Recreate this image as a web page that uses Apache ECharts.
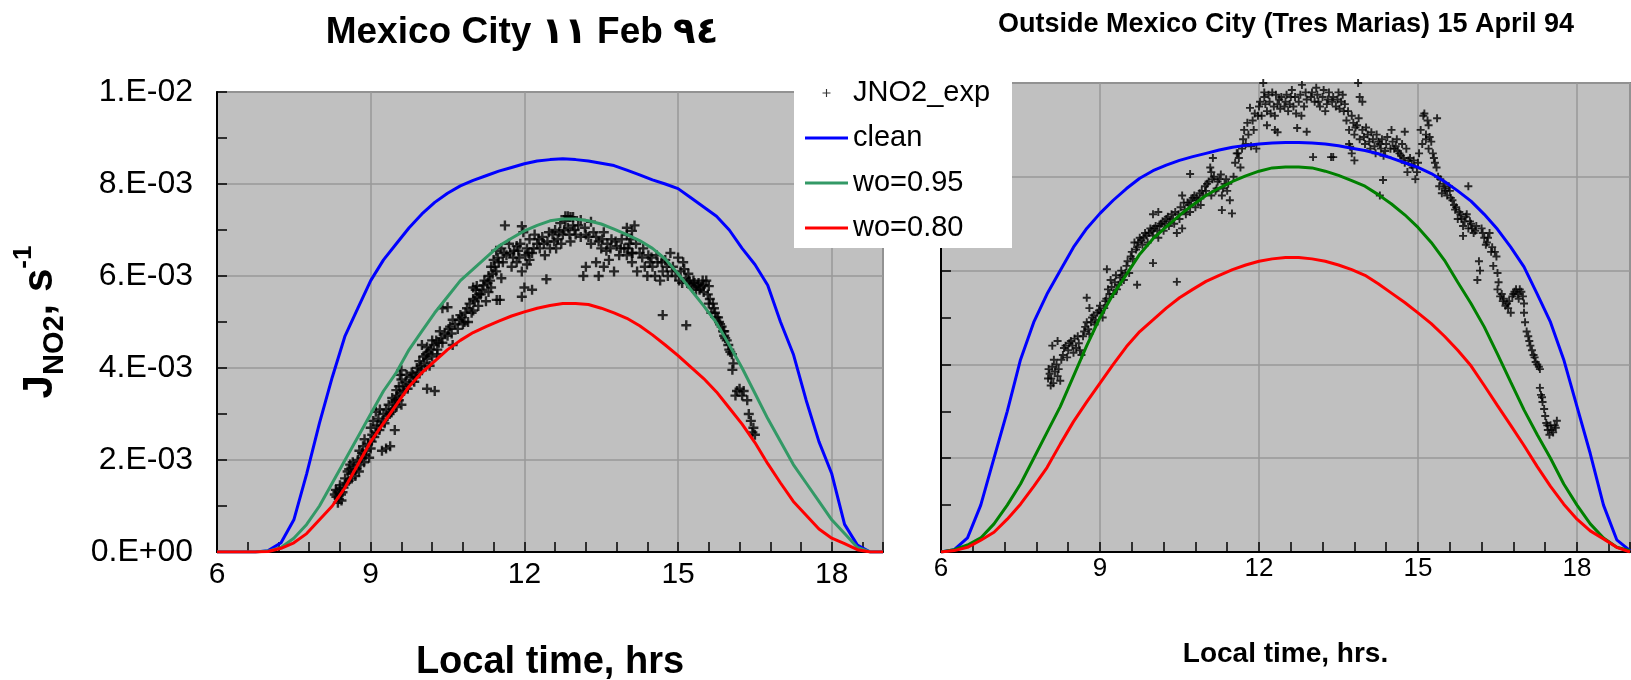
<!DOCTYPE html>
<html><head><meta charset="utf-8">
<script src="https://cdn.jsdelivr.net/npm/echarts@6/dist/echarts.min.js"></script>
<style>html,body{margin:0;padding:0;background:#fff}#c{width:1631px;height:680px}</style>
</head><body><div id="c"></div>
<script>
// ---- DATA (J values in units of 1e-3 s^-1, time in local hours) ----
const modelHours = [6,6.25,6.5,6.75,7,7.25,7.5,7.75,8,8.25,8.5,8.75,9,9.25,9.5,9.75,10,10.25,10.5,10.75,11,11.25,11.5,11.75,12,12.25,12.5,12.75,13,13.25,13.5,13.75,14,14.25,14.5,14.75,15,15.25,15.5,15.75,16,16.25,16.5,16.75,17,17.25,17.5,17.75,18,18.25,18.5,18.75,19];

const cleanFeb = [0,0,0,0,0.03,0.2,0.7,1.7,2.8,3.8,4.7,5.3,5.9,6.35,6.7,7.05,7.35,7.6,7.8,7.96,8.08,8.18,8.28,8.36,8.44,8.5,8.53,8.55,8.53,8.5,8.45,8.4,8.3,8.2,8.09,8.0,7.9,7.7,7.5,7.3,7.0,6.6,6.25,5.8,5.0,4.3,3.3,2.4,1.7,0.6,0.15,0,0];
const wo95Feb = [0,0,0,0,0.02,0.1,0.3,0.6,1.0,1.5,2.0,2.5,3.0,3.5,3.9,4.4,4.8,5.2,5.55,5.9,6.15,6.4,6.65,6.82,6.98,7.1,7.2,7.24,7.24,7.2,7.13,7.02,6.9,6.77,6.6,6.37,6.05,5.7,5.35,4.98,4.5,4.0,3.45,2.9,2.4,1.9,1.5,1.1,0.7,0.4,0.1,0,0];
const wo80Feb = [0,0,0,0,0.01,0.08,0.2,0.4,0.7,1.0,1.4,1.9,2.4,2.8,3.2,3.6,3.9,4.15,4.4,4.6,4.77,4.9,5.02,5.13,5.22,5.3,5.36,5.4,5.4,5.38,5.3,5.2,5.08,4.92,4.72,4.5,4.27,4.02,3.77,3.48,3.13,2.78,2.38,1.92,1.5,1.1,0.8,0.5,0.3,0.18,0.05,0,0];

const cleanApr = [0,0.05,0.3,1.0,2.0,3.0,4.1,4.9,5.5,6.0,6.5,6.9,7.22,7.5,7.75,7.97,8.13,8.25,8.35,8.43,8.5,8.57,8.63,8.67,8.7,8.72,8.73,8.73,8.72,8.7,8.66,8.61,8.56,8.49,8.4,8.3,8.2,8.07,7.9,7.7,7.48,7.2,6.88,6.5,6.08,5.5,4.9,4.1,3.1,2.1,1.0,0.26,0.03];
const wo95Apr = [0,0.05,0.15,0.3,0.6,1.0,1.45,2.0,2.55,3.1,3.75,4.4,5.0,5.5,5.92,6.35,6.68,6.93,7.18,7.4,7.6,7.76,7.9,8.02,8.12,8.19,8.21,8.21,8.19,8.12,8.03,7.92,7.8,7.62,7.42,7.19,6.92,6.6,6.22,5.75,5.3,4.8,4.22,3.62,3.03,2.5,2.0,1.45,1.0,0.6,0.3,0.1,0.03];
const wo80Apr = [0,0.03,0.1,0.25,0.42,0.7,1.02,1.4,1.8,2.3,2.78,3.2,3.6,4.0,4.38,4.7,4.95,5.2,5.42,5.6,5.77,5.9,6.02,6.12,6.2,6.25,6.28,6.28,6.25,6.2,6.12,6.02,5.9,5.72,5.52,5.32,5.1,4.87,4.6,4.3,3.97,3.55,3.12,2.7,2.27,1.82,1.4,1.02,0.7,0.45,0.28,0.1,0];

const expFeb = [[8.33,1.2],[8.35,1.3],[8.38,1.15],[8.4,1.38],[8.42,1.25],[8.36,1.07],[8.45,1.3],[8.4,1.45],[8.3,1.25],[8.43,1.12],
[8.5,1.6],[8.55,1.75],[8.6,1.9],[8.62,1.7],[8.68,1.85],[8.7,1.65],[8.75,2.0],[8.8,1.9],[8.57,1.55],[8.65,1.95],
[8.78,2.2],[8.85,2.3],[8.9,2.1],[8.95,2.35],[9.0,2.25],[8.88,2.45],[8.82,2.05],
[9.0,2.7],[9.05,2.85],[9.1,2.6],[9.15,2.9],[9.2,2.75],[9.25,3.0],[9.1,3.05],[9.03,2.55],[9.18,3.1],
[9.22,2.2],[9.3,2.25],[9.38,2.3],[9.47,2.65],
[9.3,3.1],[9.35,3.2],[9.4,3.05],[9.45,3.25],[9.5,3.15],[9.55,3.3],[9.6,3.2],[9.42,3.35],
[9.55,3.6],[9.6,3.75],[9.65,3.5],[9.7,3.85],[9.75,3.65],[9.8,3.9],[9.85,3.7],[9.6,3.95],[9.57,3.85],[9.5,3.52],
[9.9,4.0],[9.95,4.15],[10.0,3.95],[10.05,4.1],[10.1,4.2],[10.15,4.05],[10.2,4.25],[10.3,4.3],
[10.1,3.55],[10.25,3.5],
[10.0,4.5],[10.1,4.45],[10.2,4.6],[10.3,4.4],[10.4,4.55],[10.5,4.7],[10.6,4.5],[10.35,4.8],
[10.55,4.9],[10.6,5.05],[10.7,4.85],[10.75,5.15],[10.8,4.95],[10.85,5.2],[10.9,5.0],[11.0,5.25],
[10.4,5.3],[10.5,5.32],
[11.0,5.5],[11.05,5.7],[11.1,5.35],[11.15,5.6],[11.2,5.8],[11.25,5.45],[11.3,5.65],[11.35,5.75],[11.0,5.75],[11.07,5.78],
[11.3,6.0],[11.35,6.2],[11.4,6.35],[11.45,6.1],[11.5,6.3],[11.55,5.95],[11.45,6.55],
[11.46,5.48],[11.52,5.48],
[11.62,7.1],[11.95,7.08],[11.98,6.95],
[11.55,6.6],[11.6,6.5],[11.7,6.7],[11.8,6.55],[11.85,6.65],[11.9,6.4],
[11.75,6.2],[11.85,6.3],[11.95,6.1],[12.05,6.25],[12.1,6.35],
[11.95,5.55],[12.0,5.75],[12.15,5.7],[12.43,5.93],
[12.05,6.6],[12.1,6.8],[12.15,6.5],[12.2,6.9],[12.25,6.7],[12.3,6.6],[12.35,6.85],[12.4,6.45],[12.45,6.75],[12.5,6.6],[12.55,6.9],
[12.6,7.0],[12.65,6.8],[12.7,7.15],[12.75,6.9],[12.8,7.2],[12.85,7.05],[12.9,6.75],[12.95,7.1],[13.0,6.9],[12.85,7.3],[12.9,7.28],
[12.8,7.3],[12.95,7.28],[13.1,7.22],[13.3,7.18],
[13.15,6.0],[13.2,6.2],[13.45,6.0],
[13.2,6.9],[13.3,6.7],[13.4,6.85],[13.5,6.6],[13.55,6.95],[13.6,6.55],[13.7,6.8],[13.8,6.65],[13.85,6.45],
[13.4,6.3],[13.55,6.2],[13.65,6.35],[13.75,6.1],
[13.9,6.8],[13.95,6.6],[14.0,6.9],[14.05,6.7],[14.1,6.5],[14.0,6.45],
[14.0,7.05],[14.15,7.1],[14.1,6.98],
[14.1,6.3],[14.2,6.1],[14.3,6.4],[14.4,6.0],[14.45,6.3],[14.35,6.2],
[14.5,6.2],[14.55,6.0],[14.6,6.3],[14.65,5.9],[14.7,6.1],[14.75,6.35],[14.8,6.0],
[14.85,6.5],[14.9,6.2],[15.0,6.4],[15.05,6.1],[15.1,6.3],[15.15,5.95],[15.2,6.05],[15.25,5.8],[15.3,5.9],[15.35,5.7],[15.4,5.85],
[15.45,5.75],[15.5,5.8],[15.5,5.65],[15.55,5.9],[15.6,5.78],[14.11,6.5],
[15.6,5.4],[15.65,5.2],[15.7,5.3],[15.75,5.1],[15.8,5.0],
[15.85,4.9],[15.9,4.7],[15.95,4.6],[16.0,4.4],[16.05,4.3],[15.9,4.8],[16.06,3.96],
[16.12,3.4],[16.2,3.55],[16.28,3.5],[16.35,3.3],
[16.42,2.85],[16.45,2.6],[16.5,2.55],
[14.7,5.15],[15.16,4.93],
[8.32,1.35],[8.47,1.4],[8.52,1.5],[8.58,1.8],[8.63,1.6],[8.72,1.8],[8.77,1.75],[8.83,2.15],[8.87,1.95],[8.92,2.2],[8.97,2.05],[9.02,2.4],[9.07,2.5],[9.12,2.75],[9.17,2.65],[9.23,2.85],[9.27,2.8],[9.33,2.95],[9.37,3.0],[9.43,3.1],[9.48,3.3],[9.52,3.4],[9.58,3.45],[9.63,3.6],[9.68,3.7],[9.72,3.55],[9.78,3.8],[9.83,3.85],[9.88,3.8],[9.93,3.9],[9.98,4.05],[10.03,4.25],[10.08,4.3],[10.13,4.35],[10.18,4.4],[10.23,4.5],[10.28,4.6],[10.33,4.55],[10.38,4.65],[10.45,4.75],[10.52,4.85],[10.58,4.75],[10.65,4.95],[10.72,5.05],[10.78,5.1],[10.83,5.0],[10.88,5.3],[10.93,5.4],[10.97,5.2],[11.03,5.45],[11.08,5.55],[11.12,5.6],[11.18,5.7],[11.22,5.9],[11.28,5.85],[11.33,5.9],[11.38,6.05],[11.42,6.2],[11.48,6.4],[11.58,6.3],[11.65,6.45],[11.72,6.5],[11.78,6.4],[11.88,6.55],[11.92,6.7],[12.02,6.45],[12.08,6.5],[12.18,6.6],[12.28,6.8],[12.38,6.7],[12.48,6.95],[12.58,6.75],[12.62,6.6],[12.68,6.95],[12.72,6.7],[12.78,7.0],[12.88,6.9],[12.98,7.0],[13.05,7.1],[13.1,6.85],[13.18,7.05],[13.25,6.85],[13.35,6.95],[13.45,6.75],[13.52,6.8],[13.62,6.7],[13.68,6.6],[13.78,6.75],[13.88,6.6],[14.02,6.6],[14.08,6.8],[14.18,6.7],[14.25,6.5],[14.32,6.6],[14.42,6.45],[14.48,6.4],[14.58,6.45],[14.68,6.3],[14.78,6.2],[14.88,6.1],[14.95,6.0],[15.02,5.9],[15.08,5.85],[15.12,6.15],[15.18,5.85],[15.22,5.9],[15.28,5.75],[15.32,5.85],[15.38,5.8],[15.42,5.7],[15.48,5.9],[15.58,5.6],[15.62,5.5],[15.68,5.4],[15.72,5.2],[15.78,5.1],[15.82,4.95],[15.88,4.8],[15.92,4.65],[15.98,4.5],[16.02,4.35],[16.08,4.1],[16.15,3.5],[16.25,3.4],[16.38,3.0],[16.47,2.7]];

const expApr = [[8.05,3.8],[8.08,3.7],[8.1,3.95],[8.12,3.6],[8.15,3.85],[8.2,3.75],[8.25,3.65],[8.18,4.0],[8.1,4.4],[8.2,4.5],[8.03,3.9],[8.07,3.55],
[8.3,4.2],[8.35,4.4],[8.4,4.3],[8.45,4.5],[8.5,4.25],[8.55,4.35],[8.6,4.45],[8.65,4.2],
[8.7,4.7],[8.75,4.9],[8.8,4.65],[8.85,5.0],[8.9,4.85],[8.95,5.1],[9.0,5.25],[9.05,5.0],[9.1,5.35],[8.8,5.2],
[9.13,6.03],[8.75,5.42],
[9.15,5.6],[9.2,5.8],[9.25,5.5],[9.3,5.9],[9.35,5.7],[9.4,6.0],[9.45,5.8],[9.5,6.1],[9.55,5.95],
[9.7,5.7],[10.45,5.76],[10.0,6.16],
[9.6,6.4],[9.65,6.6],[9.7,6.5],[9.75,6.7],[9.8,6.55],[9.85,6.8],[9.9,6.6],[9.95,6.9],[10.0,6.75],[10.05,6.95],[10.1,6.7],[10.15,7.0],
[10.2,6.85],[10.25,7.1],[10.3,6.95],[10.35,7.2],[10.4,7.0],[10.45,6.8],[10.5,7.1],[10.55,6.9],
[10.0,7.2],[10.1,7.25],
[10.6,7.3],[10.65,7.45],[10.7,7.25],[10.75,7.55],[10.8,7.35],[10.85,7.5],[10.9,7.4],[10.95,7.6],
[10.55,7.6],[10.7,8.06],
[11.0,7.7],[11.05,7.9],[11.1,7.6],[11.15,8.0],[11.2,7.75],[11.25,7.95],[11.3,7.6],[11.35,7.85],[11.4,7.7],[11.45,7.5],
[11.08,8.2],[11.1,8.1],[11.3,7.29],[11.49,7.22],[11.13,8.4],
[11.55,8.3],[11.6,8.5],[11.65,8.2],[11.62,8.4],
[11.7,8.8],[11.8,8.9],[11.75,8.7],[11.85,8.65],[11.9,9.0],[11.95,8.6],[11.83,9.47],
[12.0,9.5],[12.05,9.3],[12.1,9.7],[12.15,9.4],[12.2,9.6],[12.25,9.8],[12.3,9.3],[12.35,9.55],[12.4,9.45],
[12.08,10.0],[12.1,9.8],
[12.15,9.1],[12.3,9.0],[12.35,8.95],
[12.5,9.6],[12.55,9.4],[12.6,9.7],[12.65,9.5],[12.7,9.35],[12.75,9.6],[12.8,9.3],[12.85,9.5],[12.9,9.65],
[12.72,9.04],[12.9,8.96],[12.81,9.96],
[13.0,9.8],[13.05,9.6],[13.1,9.75],[13.15,9.5],[13.2,9.7],[13.25,9.4],[13.3,9.65],
[13.02,8.42],[13.36,8.42],[13.4,8.42],
[13.4,9.7],[13.45,9.5],[13.5,9.8],[13.55,9.6],[13.6,9.4],
[13.65,9.2],[13.7,9.0],[13.75,9.3],[13.8,8.9],[13.85,9.1],[13.9,8.8],[13.95,9.0],[14.0,8.7],
[13.87,10.0],[13.9,9.7],[13.95,9.6],
[13.7,8.7],[13.75,8.5],[13.8,8.35],[13.72,8.64],
[14.05,8.9],[14.1,8.6],[14.15,8.8],[14.2,8.5],[14.25,8.75],[14.3,8.6],[14.35,8.45],[14.4,8.7],
[14.34,7.93],[14.28,7.6],
[14.5,9.0],[14.55,8.6],[14.6,8.8],[14.65,8.5],[14.7,8.7],
[14.75,8.3],[14.8,8.1],[14.85,8.4],[14.9,8.2],[14.95,7.95],[15.0,8.3],[14.75,8.96],
[15.05,9.0],[15.1,9.3],[15.15,8.8],[15.2,9.1],[15.12,9.35],[15.36,9.25],
[15.15,8.9],[15.2,8.6],[15.25,8.75],[15.3,8.4],[15.35,8.2],
[15.4,7.8],[15.45,7.65],[15.5,7.75],[15.55,7.6],[15.6,7.7],[15.65,7.5],[15.95,7.8],
[15.7,7.3],[15.75,7.1],[15.8,7.2],[15.85,6.95],[15.9,7.15],[15.95,6.9],[16.0,7.0],[16.05,6.8],[16.1,6.95],[15.85,6.74],
[16.2,6.9],[16.25,6.7],[16.3,6.6],[16.35,6.8],[16.4,6.5],[16.45,6.4],
[16.15,6.2],[16.17,6.0],[16.12,5.8],
[16.42,6.1],[16.5,5.95],
[16.5,5.6],[16.55,5.45],[16.6,5.35],[16.65,5.25],[16.7,5.2],[16.75,5.1],
[16.8,5.5],[16.85,5.6],[16.9,5.4],[16.95,5.55],[17.0,5.3],
[17.02,4.9],[17.05,4.7],[17.08,4.6],
[17.15,4.3],[17.2,4.15],[17.25,4.0],[17.3,3.9],
[17.32,3.35],[17.35,3.2],[17.38,3.05],
[17.42,2.75],[17.45,2.6],[17.5,2.7],[17.55,2.55],[17.6,2.65],[17.62,2.8],[17.48,2.5],
[8.02,3.7],[8.13,4.1],[8.22,3.9],[8.27,4.1],[8.32,4.35],[8.38,4.15],[8.42,4.45],[8.48,4.4],[8.52,4.55],[8.58,4.6],[8.62,4.3],[8.68,4.6],[8.72,4.8],[8.78,4.75],[8.83,4.9],[8.88,5.05],[8.92,4.95],[8.98,5.15],[9.02,5.1],[9.08,5.2],[9.12,5.4],[9.18,5.5],[9.22,5.65],[9.28,5.75],[9.32,5.6],[9.38,5.85],[9.42,5.9],[9.48,5.95],[9.52,6.2],[9.58,6.3],[9.62,6.25],[9.68,6.45],[9.72,6.6],[9.78,6.65],[9.82,6.7],[9.88,6.75],[9.92,6.8],[9.98,6.85],[10.02,6.9],[10.08,6.85],[10.12,6.95],[10.18,7.05],[10.22,7.0],[10.28,7.15],[10.32,7.05],[10.38,7.1],[10.42,7.25],[10.48,7.2],[10.52,7.35],[10.58,7.45],[10.62,7.2],[10.68,7.4],[10.72,7.5],[10.78,7.6],[10.82,7.55],[10.88,7.65],[10.92,7.7],[10.98,7.8],[11.02,7.85],[11.12,7.95],[11.18,7.7],[11.22,7.9],[11.28,8.05],[11.32,7.75],[11.38,7.95],[11.42,7.85],[11.52,8.0],[11.58,8.5],[11.68,8.6],[11.72,9.0],[11.78,9.15],[11.88,9.2],[11.92,9.35],[11.98,9.3],[12.02,9.6],[12.12,9.55],[12.18,9.75],[12.22,9.35],[12.28,9.5],[12.32,9.75],[12.38,9.65],[12.42,9.7],[12.48,9.5],[12.52,9.75],[12.58,9.55],[12.62,9.85],[12.68,9.7],[12.78,9.75],[12.88,9.8],[12.98,9.7],[13.08,9.9],[13.12,9.6],[13.22,9.85],[13.28,9.55],[13.32,9.8],[13.38,9.6],[13.48,9.65],[13.52,9.45],[13.58,9.75],[13.62,9.55],[13.68,9.4],[13.78,9.15],[13.82,9.05],[13.88,9.25],[13.98,8.85],[14.02,9.05],[14.08,8.75],[14.12,8.95],[14.18,8.65],[14.22,8.9],[14.28,8.7],[14.32,8.8],[14.38,8.55],[14.42,8.85],[14.48,8.6],[14.52,8.75],[14.58,8.65],[14.62,8.55],[14.68,8.45],[14.72,8.4],[14.78,8.6],[14.82,8.35],[14.88,8.25],[14.92,8.35],[14.98,8.1],[15.02,8.5],[15.08,8.7],[15.18,9.2],[15.22,8.85],[15.28,8.5],[15.32,8.3],[15.38,8.0],[15.42,7.95],[15.48,7.85],[15.52,7.7],[15.58,7.8],[15.62,7.55],[15.68,7.4],[15.72,7.35],[15.78,7.25],[15.82,7.1],[15.88,7.05],[15.92,7.2],[15.98,7.05],[16.02,6.9],[16.08,6.85],[16.22,6.8],[16.28,6.55],[16.32,6.7],[16.38,6.4],[16.48,6.3],[16.52,5.75],[16.58,5.5],[16.62,5.4],[16.68,5.3],[16.72,5.35],[16.78,5.45],[16.82,5.55],[16.88,5.5],[16.92,5.6],[16.98,5.45],[17.0,5.1],[17.1,4.5],[17.12,4.4],[17.18,4.2],[17.22,4.05],[17.28,3.95],[17.3,3.5],[17.34,3.3],[17.4,2.9],[17.44,2.7],[17.52,2.6],[17.58,2.7]];

const xTicks = [6,9,12,15,18];
const xTickLabels = ['6','9','12','15','18'];
const yTicks = [0,2,4,6,8,10];
const yTickLabels = ['0.E+00','2.E-03','4.E-03','6.E-03','8.E-03','1.E-02'];

// ---- CHART ----
const FONT = "'Liberation Sans', Arial, 'DejaVu Sans', sans-serif";
const PLUS = 'path://M3.8,0H6.2V3.8H10V6.2H6.2V10H3.8V6.2H0V3.8H3.8Z';
const PLUS_THIN = 'path://M4.3,0H5.7V4.3H10V5.7H5.7V10H4.3V5.7H0V4.3H4.3Z';
const LINE_ICON = 'path://M0,0H43V3H0Z';
const chart = echarts.init(document.getElementById('c'));
const pairs = (xs, ys) => xs.map((x, i) => [x, ys[i]]);
const xFmt = v => { const i = xTicks.indexOf(v); return i >= 0 ? xTickLabels[i] : ''; };
const yFmt = v => { const i = yTicks.indexOf(v); return i >= 0 ? yTickLabels[i] : ''; };

function xAxis(gi, fs, margin, name, nfs, ngap) {
  return {
    gridIndex: gi, type: 'value', min: 6, max: 19, interval: 3,
    axisLine: { show: true, onZero: false, lineStyle: { color: '#000', width: 2 } },
    axisTick: { show: true, inside: true, length: 10, lineStyle: { color: '#000', width: 1.5 } },
    minorTick: { show: true, splitNumber: 5, length: 10, lineStyle: { color: '#000', width: 1.5 } },
    splitLine: { show: true, lineStyle: { color: '#999', width: 1.5 } },
    axisLabel: { fontSize: fs, margin: margin, color: '#000', fontFamily: FONT, formatter: xFmt, showMaxLabel: false },
    name: name, nameLocation: 'middle', nameGap: ngap,
    nameTextStyle: { fontSize: nfs, fontWeight: 'bold', color: '#000', fontFamily: FONT, verticalAlign: 'middle' }
  };
}
function yAxis(gi, showLabel) {
  const a = {
    gridIndex: gi, type: 'value', min: 0, max: 10, interval: 2,
    axisLine: { show: true, onZero: false, lineStyle: { color: '#000', width: 2 } },
    axisTick: { show: true, inside: true, length: 10, lineStyle: { color: '#000', width: 1.5 } },
    minorTick: { show: true, splitNumber: 2, length: 10, lineStyle: { color: '#000', width: 1.5 } },
    splitLine: { show: true, lineStyle: { color: '#999', width: 1.5 } },
    axisLabel: { show: showLabel, fontSize: 32, margin: 24, padding: [7, 0, 0, 0], color: '#000', fontFamily: FONT, formatter: yFmt }
  };
  if (showLabel) {
    a.name = '{j|J}{sub|NO2}{j|, s}{sup|-1}';
    a.nameLocation = 'middle';
    a.nameRotate = 90;
    a.nameGap = 177;
    a.nameTextStyle = {
      verticalAlign: 'middle', fontFamily: FONT, color: '#000',
      rich: {
        j: { fontSize: 42, fontWeight: 'bold', fontFamily: FONT, color: '#000', lineHeight: 58, verticalAlign: 'middle' },
        sub: { fontSize: 29, fontWeight: 'bold', fontFamily: FONT, color: '#000', lineHeight: 58, verticalAlign: 'bottom' },
        sup: { fontSize: 26, fontWeight: 'bold', fontFamily: FONT, color: '#000', lineHeight: 58, verticalAlign: 'top' }
      }
    };
  }
  return a;
}
function lineSeries(name, xi, data, color) {
  return { name, type: 'line', xAxisIndex: xi, yAxisIndex: xi, data, symbol: 'none', smooth: false,
    lineStyle: { color, width: 3 }, itemStyle: { color }, z: 3 };
}
function expSeries(xi, data, size) {
  return { name: 'JNO2_exp', type: 'scatter', xAxisIndex: xi, yAxisIndex: xi, data, symbol: PLUS,
    symbolSize: size, itemStyle: { color: '#000' }, z: 2 };
}

chart.setOption({
  animation: false,
  backgroundColor: '#fff',
  grid: [
    { left: 217, top: 92, width: 666, height: 460, outerBoundsMode: 'none', containLabel: false, show: true, backgroundColor: '#c0c0c0', borderColor: '#808080', borderWidth: 2 },
    { left: 941, top: 83, width: 689, height: 469, outerBoundsMode: 'none', containLabel: false, show: true, backgroundColor: '#c0c0c0', borderColor: '#808080', borderWidth: 2 }
  ],
  xAxis: [
    xAxis(0, 30, 8, 'Local time, hrs', 38, 111),
    xAxis(1, 26, 4, 'Local time, hrs.', 28, 102)
  ],
  yAxis: [yAxis(0, true), yAxis(1, false)],
  legend: {
    orient: 'vertical', left: 794, top: 73, padding: [5, 0, 5, 11], itemGap: 15,
    itemWidth: 43, itemHeight: 8, z: 5,
    data: [
      { name: 'JNO2_exp', icon: PLUS_THIN },
      { name: 'clean', icon: LINE_ICON },
      { name: 'wo=0.95', icon: LINE_ICON },
      { name: 'wo=0.80', icon: LINE_ICON }
    ],
    textStyle: { fontSize: 29, color: '#000', fontFamily: FONT, lineHeight: 30 }
  },
  graphic: [
    { type: 'rect', z: 4, shape: { x: 794, y: 73, width: 218, height: 175 }, style: { fill: '#fff' } },
    { type: 'text', x: 522, y: 33, style: { text: 'Mexico City ١١ Feb ٩٤', fontSize: 37, fontWeight: 'bold', fontFamily: FONT, fill: '#000', align: 'center', verticalAlign: 'middle' } },
    { type: 'text', x: 1286, y: 25, style: { text: 'Outside Mexico City (Tres Marias) 15 April 94', fontSize: 27, fontWeight: 'bold', fontFamily: FONT, fill: '#000', align: 'center', verticalAlign: 'middle' } }
  ],
  series: [
    expSeries(0, expFeb, 10),
    lineSeries('clean', 0, pairs(modelHours, cleanFeb), '#0000ff'),
    lineSeries('wo=0.95', 0, pairs(modelHours, wo95Feb), '#339966'),
    lineSeries('wo=0.80', 0, pairs(modelHours, wo80Feb), '#ff0000'),
    expSeries(1, expApr, 8),
    lineSeries('clean', 1, pairs(modelHours, cleanApr), '#0000ff'),
    lineSeries('wo=0.95', 1, pairs(modelHours, wo95Apr), '#008000'),
    lineSeries('wo=0.80', 1, pairs(modelHours, wo80Apr), '#ff0000')
  ]
});
</script>
</body></html>
